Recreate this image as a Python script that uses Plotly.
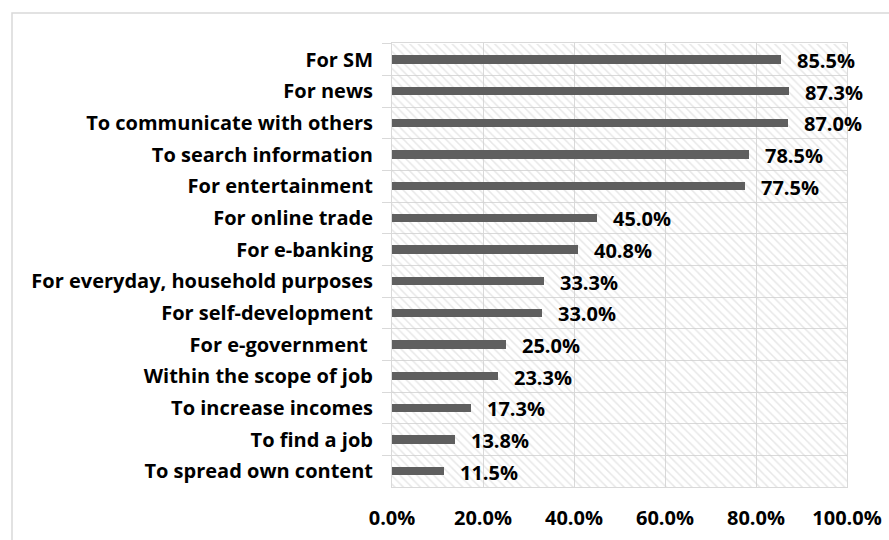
import plotly.graph_objects as go

# Purposes of internet use, share of respondents (%), listed top to bottom
purposes = [
    "For SM",
    "For news",
    "To communicate with others",
    "To search information",
    "For entertainment",
    "For online trade",
    "For e-banking",
    "For everyday, household purposes",
    "For self-development",
    "For e-government ",
    "Within the scope of job",
    "To increase incomes",
    "To find a job",
    "To spread own content",
]
shares = [85.5, 87.3, 87.0, 78.5, 77.5, 45.0, 40.8, 33.3, 33.0, 25.0, 23.3, 17.3, 13.8, 11.5]
x_ticks = [0, 20, 40, 60, 80, 100]
x_tick_text = [f"{t:.1f}%" for t in x_ticks]

FONT = "Open Sans"
GRID = "#d9d9d9"
BAR = "#5f5f5f"

W, H = 889, 540
ML, MR, MT, MB = 392, 42, 43, 53
PW, PH = W - ML - MR, H - MT - MB

fig = go.Figure()

# hatched plot-area fill: one full-width band per category
fig.add_trace(go.Bar(
    x=[100] * len(purposes), y=purposes, orientation="h", width=1,
    marker=dict(
        color="rgba(0,0,0,0)",
        line=dict(width=0),
        pattern=dict(shape="\\", size=6, solidity=0.25,
                     fgcolor="#cfcfcf", bgcolor="rgba(0,0,0,0)"),
    ),
    hoverinfo="skip", showlegend=False,
))

# data bars
fig.add_trace(go.Bar(
    x=shares, y=purposes, orientation="h", width=0.27,
    marker=dict(color=BAR, line=dict(width=0)),
    showlegend=False,
))

# value labels
for p, v in zip(purposes, shares):
    fig.add_annotation(
        x=v, y=p, text=f"{v:.1f}%", showarrow=False,
        xanchor="left", yanchor="middle", xshift=14, yshift=-1,
        font=dict(family=FONT, size=20, color="#000000", weight="bold"),
    )

# outer chart border (partly clipped by the page edge)
fig.add_shape(
    type="rect", xref="paper", yref="paper",
    x0=(12 - ML) / PW, x1=(W + 10 - ML) / PW,
    y0=-(H + 10 - MT - PH) / PH, y1=1 + (MT - 13) / PH,
    line=dict(color=GRID, width=1.5), fillcolor="rgba(0,0,0,0)", layer="below",
)

fig.update_layout(
    width=W, height=H,
    margin=dict(l=ML, r=MR, t=MT, b=MB, pad=0),
    paper_bgcolor="white", plot_bgcolor="white",
    barmode="overlay", bargap=0,
    xaxis=dict(
        range=[0, 100], tickvals=x_ticks, ticktext=x_tick_text,
        showgrid=True, gridcolor=GRID, gridwidth=1,
        showline=True, linecolor=GRID, mirror=True,
        zeroline=False, ticks="", ticklabelstandoff=13, automargin=False,
        tickfont=dict(family=FONT, size=20, color="#000000", weight="bold"),
        fixedrange=True,
    ),
    yaxis=dict(
        type="category", autorange="reversed", tickson="boundaries",
        showgrid=True, gridcolor=GRID, gridwidth=1,
        showline=True, linecolor=GRID, mirror=True, automargin=False,
        ticks="outside", ticklen=9, tickcolor=GRID, ticklabelstandoff=14,
        tickfont=dict(family=FONT, size=20, color="#000000", weight="bold"),
        fixedrange=True,
    ),
)

fig.write_html("out.html")
